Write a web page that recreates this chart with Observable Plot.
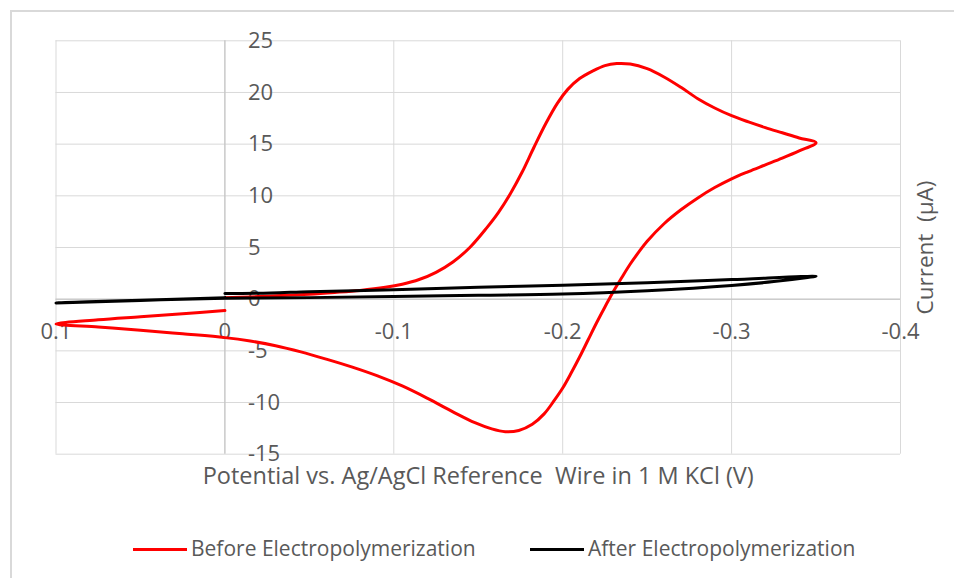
<!DOCTYPE html>
<html>
<head>
<meta charset="utf-8">
<script src="https://cdn.jsdelivr.net/npm/d3@7"></script>
<script src="https://cdn.jsdelivr.net/npm/@observablehq/plot@0.6"></script>
<style>
  html, body { margin: 0; padding: 0; background: #fff; }
  #wrap { position: relative; width: 954px; height: 578px; overflow: hidden; }
  #frame { position: absolute; left: 10px; top: 10px; width: 960px; height: 600px;
           border-top: 2px solid #d9d9d9; border-left: 2px solid #d9d9d9; box-sizing: border-box; }
  #chart { position: absolute; left: 0; top: 0; }
  #legend { position: absolute; left: 0; top: 535px; width: 954px; height: 26px;
            font-family: "Open Sans", "Segoe UI", sans-serif;
            font-size: 21px; color: #595959; }
  .item { position: absolute; top: 0; height: 26px; line-height: 26px; white-space: nowrap; }
  .sw { display: inline-block; width: 54px; height: 3px; vertical-align: middle; margin-right: 4px; position: relative; top: -1px; }
</style>
</head>
<body>
<div id="wrap">
  <div id="frame"></div>
  <div id="chart"></div>
  <div id="legend"></div>
</div>
<script>
// ---- data ----
const seriesNames = ["Before Electropolymerization", "After Electropolymerization"];
const seriesColors = ["#ff0000", "#000000"];

// Before: potential (V) and current (µA), in scan order
const beforeV = [0, 0.025, 0.05, 0.075, 0.1,
  0.075, 0.05, 0.025, 0, -0.015, -0.03, -0.045, -0.06, -0.075, -0.09, -0.105, -0.12, -0.135, -0.148, -0.158, -0.166, -0.174, -0.182, -0.189, -0.195, -0.2, -0.205, -0.21, -0.215, -0.22, -0.225, -0.23, -0.235, -0.24, -0.245, -0.25, -0.26, -0.27, -0.28, -0.29, -0.3, -0.31, -0.32, -0.33, -0.34, -0.35,
  -0.34, -0.33, -0.32, -0.31, -0.3, -0.29, -0.28, -0.27, -0.26, -0.25, -0.24, -0.232, -0.225, -0.218, -0.21, -0.203, -0.197, -0.19, -0.183, -0.176, -0.169, -0.162, -0.155, -0.145, -0.135, -0.125, -0.115, -0.105, -0.095, -0.08, -0.065, -0.05, -0.03, -0.015, 0];
const beforeI = [-1.1, -1.4, -1.7, -2.0, -2.4,
  -2.7, -3.0, -3.35, -3.72, -4.05, -4.5, -5.1, -5.8, -6.55, -7.4, -8.4, -9.6, -10.9, -11.95, -12.55, -12.82, -12.7, -12.1, -11.1, -9.8, -8.6, -7.15, -5.6, -3.95, -2.3, -0.75, 0.75, 2.1, 3.4, 4.55, 5.6, 7.3, 8.65, 9.8, 10.8, 11.65, 12.35, 13.0, 13.65, 14.35, 15.15,
  15.6, 16.1, 16.6, 17.15, 17.75, 18.5, 19.4, 20.5, 21.5, 22.3, 22.75, 22.8, 22.6, 22.1, 21.35, 20.3, 19.0, 17.0, 14.7, 12.3, 10.2, 8.4, 6.9, 5.0, 3.6, 2.6, 1.9, 1.45, 1.15, 0.85, 0.65, 0.48, 0.32, 0.22, 0.15];

// After: potential (V) and current (µA), in scan order
const afterV = [0, 0.05, 0.1,
  0.05, 0, -0.05, -0.1, -0.15, -0.2, -0.25, -0.3, -0.325, -0.345, -0.35,
  -0.3, -0.25, -0.2, -0.15, -0.1, -0.05, -0.027, 0];
const afterI = [0.15, -0.1, -0.36,
  -0.12, 0.08, 0.15, 0.25, 0.38, 0.5, 0.82, 1.32, 1.7, 2.1, 2.22,
  1.9, 1.6, 1.35, 1.15, 0.9, 0.72, 0.6, 0.55];

const xTicks = [0.1, 0, -0.1, -0.2, -0.3, -0.4];
const xTickLabels = ["0.1", "0", "-0.1", "-0.2", "-0.3", "-0.4"];
const yTicks = [25, 20, 15, 10, 5, 0, -5, -10, -15];
const yTickLabels = ["25", "20", "15", "10", "5", "0", "-5", "-10", "-15"];
const xTitle = "Potential vs. Ag/AgCl Reference  Wire in 1 M KCl (V)";
const yTitle = "Current  (μA)";

// ---- build table ----
const rows = [];
beforeV.forEach((v, i) => rows.push({series: seriesNames[0], v, c: beforeI[i]}));
afterV.forEach((v, i) => rows.push({series: seriesNames[1], v, c: afterI[i]}));

const font = "'Open Sans', 'Segoe UI', sans-serif";
const gray = "#595959";

const chart = Plot.plot({
  width: 954,
  height: 510,
  marginLeft: 55.5,
  marginRight: 54,
  marginTop: 40.3,
  marginBottom: 56.3,
  style: {fontFamily: font, background: "transparent", overflow: "visible"},
  x: {domain: [0.1, -0.4], axis: null},
  y: {domain: [-15, 25], axis: null},
  color: {domain: seriesNames, range: seriesColors},
  marks: [
    Plot.gridX(xTicks, {stroke: "#d9d9d9", strokeOpacity: 1, strokeWidth: 1}),
    Plot.gridY(yTicks, {stroke: "#d9d9d9", strokeOpacity: 1, strokeWidth: 1}),
    Plot.ruleX([0], {stroke: "#bfbfbf", strokeWidth: 1}),
    Plot.ruleY([0], {stroke: "#bfbfbf", strokeWidth: 1}),
    Plot.text(yTicks, {x: () => 0, y: d => d, text: (d, i) => yTickLabels[i], dx: 23, textAnchor: "start",
      fill: gray, fontSize: 22, fontFamily: font}),
    Plot.text(xTicks, {x: d => d, y: () => 0, text: (d, i) => xTickLabels[i], dy: 33,
      fill: gray, fontSize: 22, fontFamily: font}),
    Plot.line(rows, {x: "v", y: "c", z: "series", stroke: "series", strokeWidth: 3,
      curve: "catmull-rom", strokeLinejoin: "round", strokeLinecap: "round"}),
    Plot.text([xTitle], {frameAnchor: "bottom", dy: 22, lineAnchor: "middle",
      fill: gray, fontSize: 23.5, fontFamily: font}),
    Plot.text([yTitle], {frameAnchor: "right", dx: 25, rotate: -90, textAnchor: "middle",
      fill: gray, fontSize: 22.5, fontFamily: font})
  ]
});
document.getElementById("chart").appendChild(chart);

// ---- legend ----
const legend = document.getElementById("legend");
const lefts = [133, 530];
seriesNames.forEach((name, i) => {
  const it = document.createElement("div");
  it.className = "item";
  it.style.left = lefts[i] + "px";
  const sw = document.createElement("span");
  sw.className = "sw";
  sw.style.background = seriesColors[i];
  it.appendChild(sw);
  it.appendChild(document.createTextNode(name));
  legend.appendChild(it);
});
</script>
</body>
</html>
